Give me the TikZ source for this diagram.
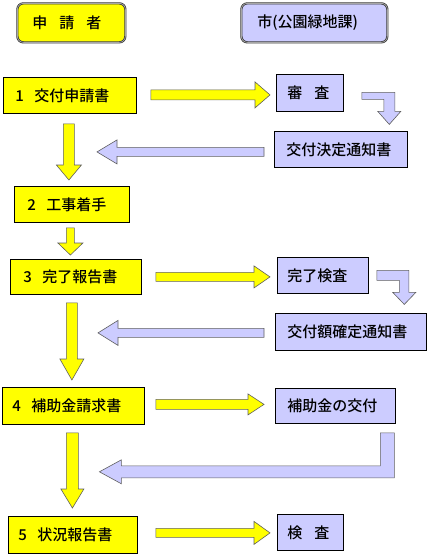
\documentclass[tikz,border=0pt]{standalone}
\usepackage{fontspec}
\setmainfont{Noto Sans CJK JP Medium}
\usetikzlibrary{calc}
\definecolor{boxyellow}{RGB}{255,255,0}
\definecolor{boxlavender}{RGB}{204,204,255}
\definecolor{edgegray}{RGB}{95,95,95}

% straight block arrows: style, start, tip, shaft half width, head half width, head length
\newcommand{\hblock}[6]{%
  \filldraw[#1] let \p1=(#2), \p2=(#3), \n1={sign(\x2-\x1)} in
    (\x1,\y1+#4pt) -- (\x2-\n1*#6pt,\y1+#4pt) -- (\x2-\n1*#6pt,\y1+#5pt) -- (\x2,\y1)
    -- (\x2-\n1*#6pt,\y1-#5pt) -- (\x2-\n1*#6pt,\y1-#4pt) -- (\x1,\y1-#4pt) -- cycle;}
\newcommand{\vblock}[6]{%
  \filldraw[#1] let \p1=(#2), \p2=(#3), \n1={sign(\y2-\y1)} in
    (\x1-#4pt,\y1) -- (\x1-#4pt,\y2-\n1*#6pt) -- (\x1-#5pt,\y2-\n1*#6pt) -- (\x1,\y2)
    -- (\x1+#5pt,\y2-\n1*#6pt) -- (\x1+#4pt,\y2-\n1*#6pt) -- (\x1+#4pt,\y1) -- cycle;}

\begin{document}
\begin{tikzpicture}[
    x=1pt, y=-1pt,
    apply/.style={rectangle, draw=black, line width=0.8pt, fill=boxyellow, minimum height=36pt,
      inner ysep=0pt, align=left, anchor=north west, font=\fontsize{15}{18}\selectfont},
    city/.style={apply, fill=boxlavender},
    head/.style={apply, minimum height=39pt, rounded corners=6pt, draw=black!80,
      double=black!35, double distance=0.8pt, line width=0.7pt},
    yarrow/.style={fill=boxyellow, draw=edgegray, line width=0.6pt},
    parrow/.style={fill=boxlavender, draw=edgegray, line width=0.6pt}
]
\useasboundingbox (0,0) rectangle (430,555);

% Headers
\node[head, inner xsep=15pt, text width=78pt] (hd1) at (17,3) {申\hspace{.8em}請\hspace{.8em}者};
\node[head, fill=boxlavender, inner xsep=16pt, text width=114pt] (hd2) at (241,3) {市(公園緑地課)};

% Applicant side
\node[apply, inner xsep=12pt, text width=109pt] (b1) at (3,77) {1\hspace{.7em}交付申請書};
\node[apply, inner xsep=13pt, text width=89pt] (b2) at (14,186) {2\hspace{.7em}工事着手};
\node[apply, inner xsep=13pt, text width=105pt, minimum height=35pt] (b3) at (10,259) {3\hspace{.7em}完了報告書};
\node[apply, inner xsep=10pt, text width=122pt, minimum height=37pt] (b4) at (2,387) {4\hspace{.7em}補助金請求書};
\node[apply, inner xsep=10pt, text width=109pt, minimum height=37pt] (b5) at (8,516) {5\hspace{.7em}状況報告書};

% City side
\node[city, inner xsep=11pt, text width=45pt, minimum height=37pt] (r1) at (276,74) {審\hspace{.8em}査};
\node[city, inner xsep=12pt, text width=109pt] (n1) at (274,131) {交付決定通知書};
\node[city, inner xsep=10pt, text width=71pt] (r3) at (277,257) {完了検査};
\node[city, inner xsep=12pt, text width=127pt, minimum height=37pt] (n3) at (275,313) {交付額確定通知書};
\node[city, inner xsep=12pt, text width=96pt, minimum height=35pt] (r4) at (275,388) {補助金の交付};
\node[city, inner xsep=10pt, text width=46pt] (r5) at (277,514) {検\hspace{.8em}査};

% Arrow tips that end in open space
\coordinate (t1) at (97,151.5);
\coordinate (t3) at (98,332.5);

% Yellow arrows
\hblock{yarrow}{$(b1.east)+(14,-0.5)$}{$(r1.west)+(-6,0)$}{5}{13}{15}
\hblock{yarrow}{$(b3.east)+(14,0)$}{$(r3.west)+(-7,0)$}{4.5}{11}{16}
\hblock{yarrow}{$(b4.east)+(11,-1.5)$}{$(r4.west)+(-11,0)$}{5}{10.5}{16}
\hblock{yarrow}{$(b5.east)+(18,-2)$}{$(r5.west)+(-7,0)$}{4.5}{11.5}{16}
\vblock{yarrow}{$(b1.south)+(-1,10)$}{$(b2.north)+(0,-6)$}{5.5}{12.5}{15}
\vblock{yarrow}{$(b2.south)+(-1.5,5)$}{$(b3.north)+(0,-4)$}{4}{12.5}{12}
\vblock{yarrow}{$(b3.south)+(-4,8)$}{$(b4.north)+(0,-7)$}{5.5}{12}{21}
\vblock{yarrow}{$(b4.south)+(-1,8)$}{$(b5.north)+(0,-8)$}{6}{11.5}{19}

% Lavender arrows
\hblock{parrow}{$(n1.west)+(-10,2.5)$}{t1}{4.5}{12}{20}
\hblock{parrow}{$(n3.west)+(-11,1)$}{t3}{4.5}{12.5}{20}
\filldraw[parrow] ($(r1.east)+(18,-0.5)$) -- ++(33,0) -- ++(0,19) -- ++(6,0) -- ++(-11.5,13)
  -- ++(-11.5,-13) -- ++(6,0) -- ++(0,-12) -- ++(-22,0) -- cycle;
\filldraw[parrow] ($(r3.east)+(8,-5)$) -- ++(32,0) -- ++(0,22) -- ++(7,0) -- ++(-11.5,12)
  -- ++(-11.5,-12) -- ++(6.5,0) -- ++(0,-12) -- ++(-22.5,0) -- cycle;
\filldraw[parrow] ($(r4.south)+(45,9)$) -- ++(14,0) -- ++(0,45) -- ++(-273,0) -- ++(0,6)
  -- ++(-22,-12) -- ++(22,-12) -- ++(0,6) -- ++(259,0) -- cycle;
\end{tikzpicture}
\end{document}
